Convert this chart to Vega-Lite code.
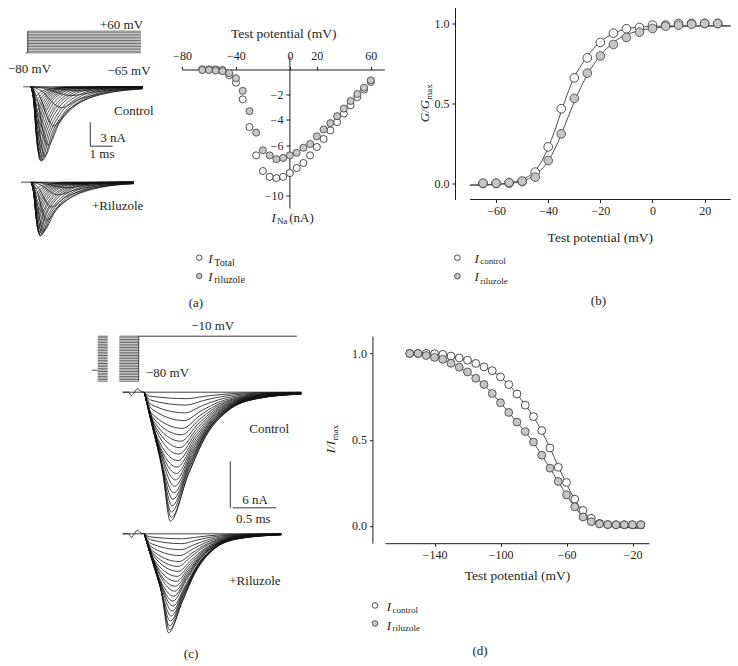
{
"$schema":"https://vega.github.io/schema/vega-lite/v6.json",
"padding":{"left":7,"top":7.5,"right":0,"bottom":0},
"autosize":{"type":"pad"},
"config":{"view":{"stroke":null},"font":"Liberation Serif",
"text":{"font":"Liberation Serif","fontSize":13,"color":"#231f20","fontWeight":"normal"},
"axis":{"grid":false,"labelFont":"Liberation Serif","labelFontSize":12,"labelColor":"#231f20","domainColor":"#231f20","tickColor":"#231f20","titleFont":"Liberation Serif","titleFontSize":13.5,"titleFontWeight":"normal","titleColor":"#231f20","labelFlush":false,"labelOverlap":false,"domainWidth":1,"tickWidth":1}},
"datasets":{
"apv":[{"v":-80},{"v":-70},{"v":-60},{"v":-50},{"v":-40},{"v":-30},{"v":-20},{"v":-10},{"v":0},{"v":10},{"v":20},{"v":30},{"v":40},{"v":50},{"v":60}],
"cpv":[{"v":-150},{"v":-145},{"v":-140},{"v":-135},{"v":-130},{"v":-125},{"v":-120},{"v":-115},{"v":-110},{"v":-105},{"v":-100},{"v":-95},{"v":-90},{"v":-85},{"v":-80},{"v":-75},{"v":-70},{"v":-65},{"v":-60},{"v":-55},{"v":-50},{"v":-45},{"v":-40},{"v":-35},{"v":-30},{"v":-25},{"v":-20},{"v":-15},{"v":-10}],
"ac":[{"k":0,"t":-0.35,"i":0},{"k":0,"t":5,"i":0},
{"k":1,"t":0,"i":0},{"k":1,"t":0.88,"i":-0.13},{"k":1,"t":1.65,"i":-0.4},{"k":1,"t":2.2,"i":-0.5},{"k":1,"t":3.45,"i":-0.3},{"k":1,"t":4.7,"i":-0.19},{"k":1,"t":5,"i":-0.16},
{"k":2,"t":0,"i":0},{"k":2,"t":0.72,"i":-0.28},{"k":2,"t":1.35,"i":-0.88},{"k":2,"t":1.8,"i":-1.1},{"k":2,"t":2.8,"i":-0.66},{"k":2,"t":3.8,"i":-0.41},{"k":2,"t":5,"i":-0.22},
{"k":3,"t":0,"i":0},{"k":3,"t":0.54,"i":-0.65},{"k":3,"t":1.01,"i":-2.08},{"k":3,"t":1.35,"i":-2.6},{"k":3,"t":2.15,"i":-1.56},{"k":3,"t":2.95,"i":-0.96},{"k":3,"t":4.55,"i":-0.36},{"k":3,"t":5,"i":-0.27},
{"k":4,"t":0,"i":0},{"k":4,"t":0.4,"i":-1.23},{"k":4,"t":0.75,"i":-3.92},{"k":4,"t":1,"i":-4.9},{"k":4,"t":1.65,"i":-2.94},{"k":4,"t":2.3,"i":-1.81},{"k":4,"t":3.6,"i":-0.69},{"k":4,"t":5,"i":-0.23},
{"k":5,"t":0,"i":0},{"k":5,"t":0.3,"i":-1.83},{"k":5,"t":0.56,"i":-5.84},{"k":5,"t":0.75,"i":-7.3},{"k":5,"t":1.3,"i":-4.38},{"k":5,"t":1.85,"i":-2.7},{"k":5,"t":2.95,"i":-1.02},{"k":5,"t":4.6,"i":-0.22},{"k":5,"t":5,"i":-0.15},
{"k":6,"t":0,"i":0},{"k":6,"t":0.24,"i":-2.18},{"k":6,"t":0.45,"i":-6.96},{"k":6,"t":0.6,"i":-8.7},{"k":6,"t":1.1,"i":-5.22},{"k":6,"t":1.6,"i":-3.22},{"k":6,"t":2.6,"i":-1.22},{"k":6,"t":4.1,"i":-0.26},{"k":6,"t":5,"i":-0.11},
{"k":7,"t":0,"i":0},{"k":7,"t":0.18,"i":-2.33},{"k":7,"t":0.34,"i":-7.44},{"k":7,"t":0.45,"i":-9.3},{"k":7,"t":0.88,"i":-5.58},{"k":7,"t":1.3,"i":-3.44},{"k":7,"t":2.15,"i":-1.3},{"k":7,"t":3.43,"i":-0.28},{"k":7,"t":5,"i":-0.04},
{"k":8,"t":0,"i":0},{"k":8,"t":0.15,"i":-2.23},{"k":8,"t":0.29,"i":-7.12},{"k":8,"t":0.38,"i":-8.9},{"k":8,"t":0.73,"i":-5.34},{"k":8,"t":1.08,"i":-3.29},{"k":8,"t":1.78,"i":-1.25},{"k":8,"t":2.83,"i":-0.27},{"k":8,"t":5,"i":-0.01},
{"k":9,"t":0,"i":0},{"k":9,"t":0.13,"i":-2},{"k":9,"t":0.25,"i":-6.4},{"k":9,"t":0.33,"i":-8},{"k":9,"t":0.63,"i":-4.8},{"k":9,"t":0.93,"i":-2.96},{"k":9,"t":1.53,"i":-1.12},{"k":9,"t":2.43,"i":-0.24},{"k":9,"t":5,"i":0},
{"k":10,"t":0,"i":0},{"k":10,"t":0.12,"i":-1.65},{"k":10,"t":0.23,"i":-5.28},{"k":10,"t":0.3,"i":-6.6},{"k":10,"t":0.55,"i":-3.96},{"k":10,"t":0.8,"i":-2.44},{"k":10,"t":1.3,"i":-0.92},{"k":10,"t":2.05,"i":-0.2},{"k":10,"t":5,"i":0},
{"k":11,"t":0,"i":0},{"k":11,"t":0.11,"i":-1.3},{"k":11,"t":0.21,"i":-4.16},{"k":11,"t":0.28,"i":-5.2},{"k":11,"t":0.5,"i":-3.12},{"k":11,"t":0.73,"i":-1.92},{"k":11,"t":1.18,"i":-0.73},{"k":11,"t":1.86,"i":-0.16},{"k":11,"t":5,"i":0},
{"k":12,"t":0,"i":0},{"k":12,"t":0.1,"i":-0.95},{"k":12,"t":0.2,"i":-3.04},{"k":12,"t":0.26,"i":-3.8},{"k":12,"t":0.46,"i":-2.28},{"k":12,"t":0.66,"i":-1.41},{"k":12,"t":1.06,"i":-0.53},{"k":12,"t":1.66,"i":-0.11},{"k":12,"t":5,"i":0},
{"k":13,"t":0,"i":0},{"k":13,"t":0.1,"i":-0.6},{"k":13,"t":0.19,"i":-1.92},{"k":13,"t":0.25,"i":-2.4},{"k":13,"t":0.44,"i":-1.44},{"k":13,"t":0.63,"i":-0.89},{"k":13,"t":1.01,"i":-0.34},{"k":13,"t":1.58,"i":-0.07},{"k":13,"t":5,"i":0},
{"k":14,"t":0,"i":0},{"k":14,"t":0.1,"i":-0.28},{"k":14,"t":0.18,"i":-0.88},{"k":14,"t":0.24,"i":-1.1},{"k":14,"t":0.42,"i":-0.66},{"k":14,"t":0.6,"i":-0.41},{"k":14,"t":0.96,"i":-0.15},{"k":14,"t":1.5,"i":-0.03},{"k":14,"t":5,"i":0},
{"k":15,"t":0,"i":0},{"k":15,"t":0.21,"i":-2.3},{"k":15,"t":0.39,"i":-7.36},{"k":15,"t":0.52,"i":-9.2},{"k":15,"t":0.98,"i":-5.52},{"k":15,"t":1.44,"i":-3.4},{"k":15,"t":2.36,"i":-1.29},{"k":15,"t":3.74,"i":-0.28},{"k":15,"t":5,"i":-0.02},
{"k":16,"t":0,"i":0},{"k":16,"t":0.16,"i":-2.3},{"k":16,"t":0.31,"i":-7.36},{"k":16,"t":0.41,"i":-9.2},{"k":16,"t":0.8,"i":-5.52},{"k":16,"t":1.19,"i":-3.4},{"k":16,"t":1.97,"i":-1.29},{"k":16,"t":3.14,"i":-0.28},{"k":16,"t":5,"i":-0.01},
{"k":17,"t":0,"i":0},{"k":17,"t":0.14,"i":-2.1},{"k":17,"t":0.26,"i":-6.72},{"k":17,"t":0.35,"i":-8.4},{"k":17,"t":0.68,"i":-5.04},{"k":17,"t":1,"i":-3.11},{"k":17,"t":1.65,"i":-1.18},{"k":17,"t":2.63,"i":-0.25},{"k":17,"t":5,"i":0},
{"k":18,"t":0,"i":0},{"k":18,"t":0.12,"i":-1.83},{"k":18,"t":0.23,"i":-5.84},{"k":18,"t":0.31,"i":-7.3},{"k":18,"t":0.59,"i":-4.38},{"k":18,"t":0.86,"i":-2.7},{"k":18,"t":1.41,"i":-1.02},{"k":18,"t":2.24,"i":-0.22},{"k":18,"t":5,"i":0},
{"k":19,"t":0,"i":0},{"k":19,"t":0.12,"i":-1.48},{"k":19,"t":0.22,"i":-4.72},{"k":19,"t":0.29,"i":-5.9},{"k":19,"t":0.53,"i":-3.54},{"k":19,"t":0.76,"i":-2.18},{"k":19,"t":1.23,"i":-0.83},{"k":19,"t":1.94,"i":-0.18},{"k":19,"t":5,"i":0},
{"k":20,"t":0,"i":0},{"k":20,"t":0.11,"i":-1.13},{"k":20,"t":0.2,"i":-3.6},{"k":20,"t":0.27,"i":-4.5},{"k":20,"t":0.48,"i":-2.7},{"k":20,"t":0.69,"i":-1.67},{"k":20,"t":1.11,"i":-0.63},{"k":20,"t":1.74,"i":-0.14},{"k":20,"t":5,"i":0},
{"k":21,"t":0,"i":0},{"k":21,"t":0.1,"i":-0.78},{"k":21,"t":0.19,"i":-2.48},{"k":21,"t":0.255,"i":-3.1},{"k":21,"t":0.45,"i":-1.86},{"k":21,"t":0.645,"i":-1.15},{"k":21,"t":1.035,"i":-0.43},{"k":21,"t":1.62,"i":-0.09},{"k":21,"t":5,"i":0},
{"k":22,"t":0,"i":0},{"k":22,"t":0.1,"i":-0.43},{"k":22,"t":0.18,"i":-1.36},{"k":22,"t":0.245,"i":-1.7},{"k":22,"t":0.43,"i":-1.02},{"k":22,"t":0.615,"i":-0.63},{"k":22,"t":0.985,"i":-0.24},{"k":22,"t":1.54,"i":-0.05},{"k":22,"t":5,"i":0}],
"ar":[{"k":0,"t":-0.45,"i":0},{"k":0,"t":4.6,"i":0},
{"k":1,"t":0,"i":0},{"k":1,"t":0.8,"i":-0.08},{"k":1,"t":1.5,"i":-0.24},{"k":1,"t":2,"i":-0.3},{"k":1,"t":3,"i":-0.18},{"k":1,"t":4,"i":-0.11},{"k":1,"t":4.6,"i":-0.08},
{"k":2,"t":0,"i":0},{"k":2,"t":0.64,"i":-0.18},{"k":2,"t":1.2,"i":-0.56},{"k":2,"t":1.6,"i":-0.7},{"k":2,"t":2.45,"i":-0.42},{"k":2,"t":3.3,"i":-0.26},{"k":2,"t":4.6,"i":-0.12},
{"k":3,"t":0,"i":0},{"k":3,"t":0.48,"i":-0.4},{"k":3,"t":0.9,"i":-1.28},{"k":3,"t":1.2,"i":-1.6},{"k":3,"t":1.95,"i":-0.96},{"k":3,"t":2.7,"i":-0.59},{"k":3,"t":4.2,"i":-0.22},{"k":3,"t":4.6,"i":-0.17},
{"k":4,"t":0,"i":0},{"k":4,"t":0.36,"i":-0.78},{"k":4,"t":0.68,"i":-2.48},{"k":4,"t":0.9,"i":-3.1},{"k":4,"t":1.55,"i":-1.86},{"k":4,"t":2.2,"i":-1.15},{"k":4,"t":3.5,"i":-0.43},{"k":4,"t":4.6,"i":-0.18},
{"k":5,"t":0,"i":0},{"k":5,"t":0.28,"i":-1.19},{"k":5,"t":0.53,"i":-3.8},{"k":5,"t":0.7,"i":-4.75},{"k":5,"t":1.3,"i":-2.85},{"k":5,"t":1.9,"i":-1.76},{"k":5,"t":3.1,"i":-0.67},{"k":5,"t":4.6,"i":-0.18},
{"k":6,"t":0,"i":0},{"k":6,"t":0.22,"i":-1.53},{"k":6,"t":0.41,"i":-4.88},{"k":6,"t":0.55,"i":-6.1},{"k":6,"t":1.08,"i":-3.66},{"k":6,"t":1.6,"i":-2.26},{"k":6,"t":2.65,"i":-0.85},{"k":6,"t":4.23,"i":-0.18},{"k":6,"t":4.6,"i":-0.13},
{"k":7,"t":0,"i":0},{"k":7,"t":0.17,"i":-1.69},{"k":7,"t":0.32,"i":-5.4},{"k":7,"t":0.42,"i":-6.75},{"k":7,"t":0.85,"i":-4.05},{"k":7,"t":1.27,"i":-2.5},{"k":7,"t":2.12,"i":-0.95},{"k":7,"t":3.4,"i":-0.2},{"k":7,"t":4.6,"i":-0.05},
{"k":8,"t":0,"i":0},{"k":8,"t":0.14,"i":-1.61},{"k":8,"t":0.27,"i":-5.16},{"k":8,"t":0.36,"i":-6.45},{"k":8,"t":0.71,"i":-3.87},{"k":8,"t":1.06,"i":-2.39},{"k":8,"t":1.76,"i":-0.9},{"k":8,"t":2.81,"i":-0.19},{"k":8,"t":4.6,"i":-0.01},
{"k":9,"t":0,"i":0},{"k":9,"t":0.13,"i":-1.48},{"k":9,"t":0.24,"i":-4.72},{"k":9,"t":0.32,"i":-5.9},{"k":9,"t":0.62,"i":-3.54},{"k":9,"t":0.92,"i":-2.18},{"k":9,"t":1.52,"i":-0.83},{"k":9,"t":2.42,"i":-0.18},{"k":9,"t":4.6,"i":0},
{"k":10,"t":0,"i":0},{"k":10,"t":0.12,"i":-1.25},{"k":10,"t":0.22,"i":-4},{"k":10,"t":0.29,"i":-5},{"k":10,"t":0.55,"i":-3},{"k":10,"t":0.81,"i":-1.85},{"k":10,"t":1.33,"i":-0.7},{"k":10,"t":2.11,"i":-0.15},{"k":10,"t":4.6,"i":0},
{"k":11,"t":0,"i":0},{"k":11,"t":0.11,"i":-1},{"k":11,"t":0.2,"i":-3.2},{"k":11,"t":0.27,"i":-4},{"k":11,"t":0.5,"i":-2.4},{"k":11,"t":0.73,"i":-1.48},{"k":11,"t":1.19,"i":-0.56},{"k":11,"t":1.88,"i":-0.12},{"k":11,"t":4.6,"i":0},
{"k":12,"t":0,"i":0},{"k":12,"t":0.1,"i":-0.74},{"k":12,"t":0.19,"i":-2.36},{"k":12,"t":0.25,"i":-2.95},{"k":12,"t":0.46,"i":-1.77},{"k":12,"t":0.67,"i":-1.09},{"k":12,"t":1.09,"i":-0.41},{"k":12,"t":1.72,"i":-0.09},{"k":12,"t":4.6,"i":0},
{"k":13,"t":0,"i":0},{"k":13,"t":0.1,"i":-0.46},{"k":13,"t":0.18,"i":-1.48},{"k":13,"t":0.24,"i":-1.85},{"k":13,"t":0.43,"i":-1.11},{"k":13,"t":0.62,"i":-0.68},{"k":13,"t":1,"i":-0.26},{"k":13,"t":1.57,"i":-0.06},{"k":13,"t":4.6,"i":0},
{"k":14,"t":0,"i":0},{"k":14,"t":0.09,"i":-0.21},{"k":14,"t":0.17,"i":-0.66},{"k":14,"t":0.23,"i":-0.83},{"k":14,"t":0.41,"i":-0.5},{"k":14,"t":0.59,"i":-0.31},{"k":14,"t":0.95,"i":-0.11},{"k":14,"t":1.49,"i":-0.02},{"k":14,"t":4.6,"i":0},
{"k":15,"t":0,"i":0},{"k":15,"t":0.19,"i":-1.61},{"k":15,"t":0.36,"i":-5.16},{"k":15,"t":0.48,"i":-6.45},{"k":15,"t":0.96,"i":-3.87},{"k":15,"t":1.43,"i":-2.39},{"k":15,"t":2.38,"i":-0.9},{"k":15,"t":3.81,"i":-0.19},{"k":15,"t":4.6,"i":-0.08},
{"k":16,"t":0,"i":0},{"k":16,"t":0.16,"i":-1.66},{"k":16,"t":0.29,"i":-5.32},{"k":16,"t":0.39,"i":-6.65},{"k":16,"t":0.78,"i":-3.99},{"k":16,"t":1.17,"i":-2.46},{"k":16,"t":1.95,"i":-0.93},{"k":16,"t":3.12,"i":-0.2},{"k":16,"t":4.6,"i":-0.03},
{"k":17,"t":0,"i":0},{"k":17,"t":0.14,"i":-1.57},{"k":17,"t":0.26,"i":-5.02},{"k":17,"t":0.34,"i":-6.27},{"k":17,"t":0.67,"i":-3.76},{"k":17,"t":0.99,"i":-2.32},{"k":17,"t":1.64,"i":-0.88},{"k":17,"t":2.62,"i":-0.19},{"k":17,"t":4.6,"i":0},
{"k":18,"t":0,"i":0},{"k":18,"t":0.12,"i":-1.4},{"k":18,"t":0.23,"i":-4.48},{"k":18,"t":0.305,"i":-5.6},{"k":18,"t":0.585,"i":-3.36},{"k":18,"t":0.865,"i":-2.07},{"k":18,"t":1.425,"i":-0.78},{"k":18,"t":2.265,"i":-0.17},{"k":18,"t":4.6,"i":0},
{"k":19,"t":0,"i":0},{"k":19,"t":0.11,"i":-1.13},{"k":19,"t":0.21,"i":-3.6},{"k":19,"t":0.28,"i":-4.5},{"k":19,"t":0.525,"i":-2.7},{"k":19,"t":0.77,"i":-1.67},{"k":19,"t":1.26,"i":-0.63},{"k":19,"t":1.995,"i":-0.14},{"k":19,"t":4.6,"i":0},
{"k":20,"t":0,"i":0},{"k":20,"t":0.1,"i":-0.88},{"k":20,"t":0.195,"i":-2.8},{"k":20,"t":0.26,"i":-3.5},{"k":20,"t":0.48,"i":-2.1},{"k":20,"t":0.7,"i":-1.3},{"k":20,"t":1.14,"i":-0.49},{"k":20,"t":1.8,"i":-0.11},{"k":20,"t":4.6,"i":0},
{"k":21,"t":0,"i":0},{"k":21,"t":0.1,"i":-0.6},{"k":21,"t":0.18,"i":-1.92},{"k":21,"t":0.245,"i":-2.4},{"k":21,"t":0.445,"i":-1.44},{"k":21,"t":0.645,"i":-0.89},{"k":21,"t":1.045,"i":-0.34},{"k":21,"t":1.645,"i":-0.07},{"k":21,"t":4.6,"i":0},
{"k":22,"t":0,"i":0},{"k":22,"t":0.09,"i":-0.35},{"k":22,"t":0.18,"i":-1.1},{"k":22,"t":0.235,"i":-1.38},{"k":22,"t":0.42,"i":-0.83},{"k":22,"t":0.605,"i":-0.51},{"k":22,"t":0.975,"i":-0.19},{"k":22,"t":1.53,"i":-0.04},{"k":22,"t":4.6,"i":0}],
"cc":[{"k":0,"t":-0.25,"i":0},{"k":0,"t":1.81,"i":0},
{"k":99,"t":-0.25,"i":0},{"k":99,"t":-0.18,"i":0},{"k":99,"t":-0.15,"i":-0.45},{"k":99,"t":-0.12,"i":-0.1},{"k":99,"t":-0.08,"i":0.45},{"k":99,"t":-0.04,"i":0.1},{"k":99,"t":0,"i":0},
{"k":1,"t":0,"i":0},{"k":1,"t":0.21,"i":-9.96},{"k":1,"t":0.3,"i":-16.6},{"k":1,"t":0.5,"i":-10.79},{"k":1,"t":0.7,"i":-5.81},{"k":1,"t":0.95,"i":-2.49},{"k":1,"t":1.3,"i":-0.83},{"k":1,"t":1.81,"i":-0.25},
{"k":2,"t":0,"i":0},{"k":2,"t":0.2,"i":-9.66},{"k":2,"t":0.31,"i":-16.1},{"k":2,"t":0.51,"i":-10.47},{"k":2,"t":0.71,"i":-5.64},{"k":2,"t":0.96,"i":-2.42},{"k":2,"t":1.31,"i":-0.81},{"k":2,"t":1.81,"i":-0.24},
{"k":3,"t":0,"i":0},{"k":3,"t":0.2,"i":-9.26},{"k":3,"t":0.31,"i":-15.44},{"k":3,"t":0.51,"i":-10.03},{"k":3,"t":0.71,"i":-5.4},{"k":3,"t":0.96,"i":-2.32},{"k":3,"t":1.31,"i":-0.77},{"k":3,"t":1.81,"i":-0.23},
{"k":4,"t":0,"i":0},{"k":4,"t":0.19,"i":-8.76},{"k":4,"t":0.32,"i":-14.61},{"k":4,"t":0.52,"i":-9.5},{"k":4,"t":0.72,"i":-5.11},{"k":4,"t":0.97,"i":-2.19},{"k":4,"t":1.32,"i":-0.73},{"k":4,"t":1.81,"i":-0.22},
{"k":5,"t":0,"i":0},{"k":5,"t":0.18,"i":-8.27},{"k":5,"t":0.33,"i":-13.78},{"k":5,"t":0.53,"i":-8.96},{"k":5,"t":0.73,"i":-4.82},{"k":5,"t":0.98,"i":-2.07},{"k":5,"t":1.33,"i":-0.69},{"k":5,"t":1.81,"i":-0.21},
{"k":6,"t":0,"i":0},{"k":6,"t":0.17,"i":-7.77},{"k":6,"t":0.34,"i":-12.95},{"k":6,"t":0.54,"i":-8.42},{"k":6,"t":0.74,"i":-4.53},{"k":6,"t":0.99,"i":-1.94},{"k":6,"t":1.34,"i":-0.65},{"k":6,"t":1.81,"i":-0.2},
{"k":7,"t":0,"i":0},{"k":7,"t":0.17,"i":-7.27},{"k":7,"t":0.35,"i":-12.12},{"k":7,"t":0.55,"i":-7.88},{"k":7,"t":0.75,"i":-4.24},{"k":7,"t":1,"i":-1.82},{"k":7,"t":1.35,"i":-0.61},{"k":7,"t":1.81,"i":-0.18},
{"k":8,"t":0,"i":0},{"k":8,"t":0.16,"i":-6.77},{"k":8,"t":0.36,"i":-11.29},{"k":8,"t":0.56,"i":-7.34},{"k":8,"t":0.76,"i":-3.95},{"k":8,"t":1.01,"i":-1.69},{"k":8,"t":1.36,"i":-0.56},{"k":8,"t":1.81,"i":-0.17},
{"k":9,"t":0,"i":0},{"k":9,"t":0.15,"i":-6.27},{"k":9,"t":0.37,"i":-10.46},{"k":9,"t":0.57,"i":-6.8},{"k":9,"t":0.77,"i":-3.66},{"k":9,"t":1.02,"i":-1.57},{"k":9,"t":1.37,"i":-0.52},{"k":9,"t":1.81,"i":-0.16},
{"k":10,"t":0,"i":0},{"k":10,"t":0.14,"i":-5.78},{"k":10,"t":0.38,"i":-9.63},{"k":10,"t":0.58,"i":-6.26},{"k":10,"t":0.78,"i":-3.37},{"k":10,"t":1.03,"i":-1.44},{"k":10,"t":1.38,"i":-0.48},{"k":10,"t":1.81,"i":-0.15},
{"k":11,"t":0,"i":0},{"k":11,"t":0.13,"i":-5.28},{"k":11,"t":0.39,"i":-8.8},{"k":11,"t":0.59,"i":-5.72},{"k":11,"t":0.79,"i":-3.08},{"k":11,"t":1.04,"i":-1.32},{"k":11,"t":1.39,"i":-0.44},{"k":11,"t":1.81,"i":-0.13},
{"k":12,"t":0,"i":0},{"k":12,"t":0.13,"i":-4.78},{"k":12,"t":0.4,"i":-7.97},{"k":12,"t":0.6,"i":-5.18},{"k":12,"t":0.8,"i":-2.79},{"k":12,"t":1.05,"i":-1.2},{"k":12,"t":1.4,"i":-0.4},{"k":12,"t":1.81,"i":-0.12},
{"k":13,"t":0,"i":0},{"k":13,"t":0.12,"i":-4.28},{"k":13,"t":0.41,"i":-7.14},{"k":13,"t":0.61,"i":-4.64},{"k":13,"t":0.81,"i":-2.5},{"k":13,"t":1.06,"i":-1.07},{"k":13,"t":1.41,"i":-0.36},{"k":13,"t":1.81,"i":-0.11},
{"k":14,"t":0,"i":0},{"k":14,"t":0.11,"i":-3.78},{"k":14,"t":0.42,"i":-6.31},{"k":14,"t":0.62,"i":-4.1},{"k":14,"t":0.82,"i":-2.21},{"k":14,"t":1.07,"i":-0.95},{"k":14,"t":1.42,"i":-0.32},{"k":14,"t":1.81,"i":-0.1},
{"k":15,"t":0,"i":0},{"k":15,"t":0.1,"i":-3.29},{"k":15,"t":0.43,"i":-5.48},{"k":15,"t":0.63,"i":-3.56},{"k":15,"t":0.83,"i":-1.92},{"k":15,"t":1.08,"i":-0.82},{"k":15,"t":1.43,"i":-0.27},{"k":15,"t":1.81,"i":-0.08},
{"k":16,"t":0,"i":0},{"k":16,"t":0.09,"i":-2.79},{"k":16,"t":0.44,"i":-4.65},{"k":16,"t":0.64,"i":-3.02},{"k":16,"t":0.84,"i":-1.63},{"k":16,"t":1.09,"i":-0.7},{"k":16,"t":1.44,"i":-0.23},{"k":16,"t":1.81,"i":-0.07},
{"k":17,"t":0,"i":0},{"k":17,"t":0.09,"i":-2.19},{"k":17,"t":0.46,"i":-3.65},{"k":17,"t":0.66,"i":-2.37},{"k":17,"t":0.86,"i":-1.28},{"k":17,"t":1.11,"i":-0.55},{"k":17,"t":1.46,"i":-0.18},{"k":17,"t":1.81,"i":-0.06},
{"k":18,"t":0,"i":0},{"k":18,"t":0.08,"i":-1.59},{"k":18,"t":0.47,"i":-2.66},{"k":18,"t":0.67,"i":-1.73},{"k":18,"t":0.87,"i":-0.93},{"k":18,"t":1.12,"i":-0.4},{"k":18,"t":1.47,"i":-0.13},{"k":18,"t":1.81,"i":-0.04},
{"k":19,"t":0,"i":0},{"k":19,"t":0.07,"i":-1},{"k":19,"t":0.48,"i":-1.66},{"k":19,"t":0.68,"i":-1.08},{"k":19,"t":0.88,"i":-0.58},{"k":19,"t":1.13,"i":-0.25},{"k":19,"t":1.48,"i":-0.08},{"k":19,"t":1.81,"i":-0.03},
{"k":20,"t":0,"i":0},{"k":20,"t":0.06,"i":-0.5},{"k":20,"t":0.49,"i":-0.83},{"k":20,"t":0.69,"i":-0.54},{"k":20,"t":0.89,"i":-0.29},{"k":20,"t":1.14,"i":-0.12},{"k":20,"t":1.49,"i":-0.04},{"k":20,"t":1.81,"i":-0.01}],
"cr":[{"k":0,"t":-0.25,"i":0},{"k":0,"t":1.58,"i":0},
{"k":99,"t":-0.25,"i":0},{"k":99,"t":-0.18,"i":0},{"k":99,"t":-0.15,"i":-0.45},{"k":99,"t":-0.12,"i":-0.1},{"k":99,"t":-0.08,"i":0.45},{"k":99,"t":-0.04,"i":0.1},{"k":99,"t":0,"i":0},
{"k":1,"t":0,"i":0},{"k":1,"t":0.2,"i":-7.64},{"k":1,"t":0.28,"i":-12.74},{"k":1,"t":0.43,"i":-8.92},{"k":1,"t":0.58,"i":-5.1},{"k":1,"t":0.78,"i":-2.17},{"k":1,"t":1.08,"i":-0.64},{"k":1,"t":1.58,"i":-0.13},
{"k":2,"t":0,"i":0},{"k":2,"t":0.2,"i":-7.41},{"k":2,"t":0.29,"i":-12.36},{"k":2,"t":0.44,"i":-8.65},{"k":2,"t":0.59,"i":-4.95},{"k":2,"t":0.79,"i":-2.1},{"k":2,"t":1.09,"i":-0.62},{"k":2,"t":1.58,"i":-0.13},
{"k":3,"t":0,"i":0},{"k":3,"t":0.19,"i":-7.11},{"k":3,"t":0.29,"i":-11.85},{"k":3,"t":0.44,"i":-8.3},{"k":3,"t":0.59,"i":-4.74},{"k":3,"t":0.79,"i":-2.02},{"k":3,"t":1.09,"i":-0.6},{"k":3,"t":1.58,"i":-0.12},
{"k":4,"t":0,"i":0},{"k":4,"t":0.18,"i":-6.72},{"k":4,"t":0.3,"i":-11.21},{"k":4,"t":0.45,"i":-7.85},{"k":4,"t":0.6,"i":-4.49},{"k":4,"t":0.8,"i":-1.91},{"k":4,"t":1.1,"i":-0.56},{"k":4,"t":1.58,"i":-0.11},
{"k":5,"t":0,"i":0},{"k":5,"t":0.17,"i":-6.34},{"k":5,"t":0.31,"i":-10.57},{"k":5,"t":0.46,"i":-7.4},{"k":5,"t":0.61,"i":-4.23},{"k":5,"t":0.81,"i":-1.8},{"k":5,"t":1.11,"i":-0.53},{"k":5,"t":1.58,"i":-0.11},
{"k":6,"t":0,"i":0},{"k":6,"t":0.17,"i":-5.96},{"k":6,"t":0.32,"i":-9.94},{"k":6,"t":0.47,"i":-6.96},{"k":6,"t":0.62,"i":-3.98},{"k":6,"t":0.82,"i":-1.69},{"k":6,"t":1.12,"i":-0.5},{"k":6,"t":1.58,"i":-0.1},
{"k":7,"t":0,"i":0},{"k":7,"t":0.16,"i":-5.58},{"k":7,"t":0.33,"i":-9.3},{"k":7,"t":0.48,"i":-6.51},{"k":7,"t":0.63,"i":-3.72},{"k":7,"t":0.83,"i":-1.58},{"k":7,"t":1.13,"i":-0.47},{"k":7,"t":1.58,"i":-0.09},
{"k":8,"t":0,"i":0},{"k":8,"t":0.15,"i":-5.2},{"k":8,"t":0.33,"i":-8.66},{"k":8,"t":0.48,"i":-6.06},{"k":8,"t":0.63,"i":-3.47},{"k":8,"t":0.83,"i":-1.47},{"k":8,"t":1.13,"i":-0.44},{"k":8,"t":1.58,"i":-0.09},
{"k":9,"t":0,"i":0},{"k":9,"t":0.14,"i":-4.81},{"k":9,"t":0.34,"i":-8.03},{"k":9,"t":0.49,"i":-5.62},{"k":9,"t":0.64,"i":-3.21},{"k":9,"t":0.84,"i":-1.37},{"k":9,"t":1.14,"i":-0.4},{"k":9,"t":1.58,"i":-0.08},
{"k":10,"t":0,"i":0},{"k":10,"t":0.14,"i":-4.43},{"k":10,"t":0.35,"i":-7.39},{"k":10,"t":0.5,"i":-5.17},{"k":10,"t":0.65,"i":-2.96},{"k":10,"t":0.85,"i":-1.26},{"k":10,"t":1.15,"i":-0.37},{"k":10,"t":1.58,"i":-0.07},
{"k":11,"t":0,"i":0},{"k":11,"t":0.13,"i":-4.05},{"k":11,"t":0.36,"i":-6.75},{"k":11,"t":0.51,"i":-4.73},{"k":11,"t":0.66,"i":-2.7},{"k":11,"t":0.86,"i":-1.15},{"k":11,"t":1.16,"i":-0.34},{"k":11,"t":1.58,"i":-0.07},
{"k":12,"t":0,"i":0},{"k":12,"t":0.12,"i":-3.67},{"k":12,"t":0.37,"i":-6.12},{"k":12,"t":0.52,"i":-4.28},{"k":12,"t":0.67,"i":-2.45},{"k":12,"t":0.87,"i":-1.04},{"k":12,"t":1.17,"i":-0.31},{"k":12,"t":1.58,"i":-0.06},
{"k":13,"t":0,"i":0},{"k":13,"t":0.11,"i":-3.29},{"k":13,"t":0.38,"i":-5.48},{"k":13,"t":0.53,"i":-3.83},{"k":13,"t":0.68,"i":-2.19},{"k":13,"t":0.88,"i":-0.93},{"k":13,"t":1.18,"i":-0.27},{"k":13,"t":1.58,"i":-0.05},
{"k":14,"t":0,"i":0},{"k":14,"t":0.11,"i":-2.9},{"k":14,"t":0.39,"i":-4.84},{"k":14,"t":0.54,"i":-3.39},{"k":14,"t":0.69,"i":-1.94},{"k":14,"t":0.89,"i":-0.82},{"k":14,"t":1.19,"i":-0.24},{"k":14,"t":1.58,"i":-0.05},
{"k":15,"t":0,"i":0},{"k":15,"t":0.1,"i":-2.52},{"k":15,"t":0.39,"i":-4.2},{"k":15,"t":0.54,"i":-2.94},{"k":15,"t":0.69,"i":-1.68},{"k":15,"t":0.89,"i":-0.71},{"k":15,"t":1.19,"i":-0.21},{"k":15,"t":1.58,"i":-0.04},
{"k":16,"t":0,"i":0},{"k":16,"t":0.09,"i":-2.14},{"k":16,"t":0.4,"i":-3.57},{"k":16,"t":0.55,"i":-2.5},{"k":16,"t":0.7,"i":-1.43},{"k":16,"t":0.9,"i":-0.61},{"k":16,"t":1.2,"i":-0.18},{"k":16,"t":1.58,"i":-0.04},
{"k":17,"t":0,"i":0},{"k":17,"t":0.08,"i":-1.68},{"k":17,"t":0.41,"i":-2.8},{"k":17,"t":0.56,"i":-1.96},{"k":17,"t":0.71,"i":-1.12},{"k":17,"t":0.91,"i":-0.48},{"k":17,"t":1.21,"i":-0.14},{"k":17,"t":1.58,"i":-0.03},
{"k":18,"t":0,"i":0},{"k":18,"t":0.07,"i":-1.22},{"k":18,"t":0.42,"i":-2.04},{"k":18,"t":0.57,"i":-1.43},{"k":18,"t":0.72,"i":-0.82},{"k":18,"t":0.92,"i":-0.35},{"k":18,"t":1.22,"i":-0.1},{"k":18,"t":1.58,"i":-0.02},
{"k":19,"t":0,"i":0},{"k":19,"t":0.07,"i":-0.76},{"k":19,"t":0.43,"i":-1.27},{"k":19,"t":0.58,"i":-0.89},{"k":19,"t":0.73,"i":-0.51},{"k":19,"t":0.93,"i":-0.22},{"k":19,"t":1.23,"i":-0.06},{"k":19,"t":1.58,"i":-0.01},
{"k":20,"t":0,"i":0},{"k":20,"t":0.06,"i":-0.38},{"k":20,"t":0.44,"i":-0.64},{"k":20,"t":0.59,"i":-0.45},{"k":20,"t":0.74,"i":-0.26},{"k":20,"t":0.94,"i":-0.11},{"k":20,"t":1.24,"i":-0.03},{"k":20,"t":1.58,"i":-0.01}],
"iv":[{"s":"Total","V":-65,"I":0},{"s":"Total","V":-60,"I":0},{"s":"Total","V":-55,"I":0},{"s":"Total","V":-50,"I":-0.05},{"s":"Total","V":-45,"I":-0.47},{"s":"Total","V":-40,"I":-1.05},{"s":"Total","V":-35,"I":-2.37},{"s":"Total","V":-30,"I":-4.56},{"s":"Total","V":-25,"I":-6.8},{"s":"Total","V":-20,"I":-8.04},{"s":"Total","V":-15,"I":-8.5},{"s":"Total","V":-10,"I":-8.6},{"s":"Total","V":-5,"I":-8.5},{"s":"Total","V":0,"I":-8.2},{"s":"Total","V":5,"I":-7.8},{"s":"Total","V":10,"I":-7.4},{"s":"Total","V":15,"I":-6.8},{"s":"Total","V":20,"I":-6.14},{"s":"Total","V":25,"I":-5.5},{"s":"Total","V":30,"I":-4.83},{"s":"Total","V":35,"I":-4.17},{"s":"Total","V":40,"I":-3.5},{"s":"Total","V":45,"I":-2.85},{"s":"Total","V":50,"I":-2.19},{"s":"Total","V":55,"I":-1.6},{"s":"Total","V":60,"I":-1},
{"s":"riluzole","V":-65,"I":-0.05},{"s":"riluzole","V":-60,"I":-0.05},{"s":"riluzole","V":-55,"I":-0.1},{"s":"riluzole","V":-50,"I":-0.14},{"s":"riluzole","V":-45,"I":-0.3},{"s":"riluzole","V":-40,"I":-0.7},{"s":"riluzole","V":-35,"I":-1.7},{"s":"riluzole","V":-30,"I":-3.3},{"s":"riluzole","V":-25,"I":-5},{"s":"riluzole","V":-20,"I":-6.4},{"s":"riluzole","V":-15,"I":-6.8},{"s":"riluzole","V":-10,"I":-7.1},{"s":"riluzole","V":-5,"I":-7},{"s":"riluzole","V":0,"I":-6.8},{"s":"riluzole","V":5,"I":-6.6},{"s":"riluzole","V":10,"I":-6.2},{"s":"riluzole","V":15,"I":-5.9},{"s":"riluzole","V":20,"I":-5.3},{"s":"riluzole","V":25,"I":-4.75},{"s":"riluzole","V":30,"I":-4.25},{"s":"riluzole","V":35,"I":-3.7},{"s":"riluzole","V":40,"I":-3.1},{"s":"riluzole","V":45,"I":-2.5},{"s":"riluzole","V":50,"I":-1.95},{"s":"riluzole","V":55,"I":-1.45},{"s":"riluzole","V":60,"I":-0.87}],
"bpts":[{"s":"control","V":-65,"G":0},{"s":"control","V":-60,"G":0},{"s":"control","V":-55,"G":0.003},{"s":"control","V":-50,"G":0.012},{"s":"control","V":-45,"G":0.071},{"s":"control","V":-40,"G":0.229},{"s":"control","V":-35,"G":0.467},{"s":"control","V":-30,"G":0.66},{"s":"control","V":-25,"G":0.785},{"s":"control","V":-20,"G":0.882},{"s":"control","V":-15,"G":0.94},{"s":"control","V":-10,"G":0.967},{"s":"control","V":-5,"G":0.975},{"s":"control","V":0,"G":0.99},{"s":"control","V":5,"G":0.99},{"s":"control","V":10,"G":1},{"s":"control","V":15,"G":1},{"s":"control","V":20,"G":1},{"s":"control","V":25,"G":1},
{"s":"riluzole","V":-65,"G":0.002},{"s":"riluzole","V":-60,"G":0.002},{"s":"riluzole","V":-55,"G":0.006},{"s":"riluzole","V":-50,"G":0.015},{"s":"riluzole","V":-45,"G":0.04},{"s":"riluzole","V":-40,"G":0.144},{"s":"riluzole","V":-35,"G":0.31},{"s":"riluzole","V":-30,"G":0.532},{"s":"riluzole","V":-25,"G":0.69},{"s":"riluzole","V":-20,"G":0.797},{"s":"riluzole","V":-15,"G":0.869},{"s":"riluzole","V":-10,"G":0.913},{"s":"riluzole","V":-5,"G":0.946},{"s":"riluzole","V":0,"G":0.969},{"s":"riluzole","V":5,"G":0.983},{"s":"riluzole","V":10,"G":0.99},{"s":"riluzole","V":15,"G":0.996},{"s":"riluzole","V":20,"G":1},{"s":"riluzole","V":25,"G":1}],
"bfit":[{"s":"control","V":-70,"G":-0.01},{"s":"control","V":-65,"G":-0.009},{"s":"control","V":-60,"G":-0.005},{"s":"control","V":-55,"G":0.004},{"s":"control","V":-50,"G":0.025},{"s":"control","V":-47.5,"G":0.045},{"s":"control","V":-45,"G":0.08},{"s":"control","V":-42.5,"G":0.14},{"s":"control","V":-40,"G":0.225},{"s":"control","V":-37.5,"G":0.33},{"s":"control","V":-35,"G":0.45},{"s":"control","V":-32.5,"G":0.565},{"s":"control","V":-30,"G":0.665},{"s":"control","V":-27.5,"G":0.735},{"s":"control","V":-25,"G":0.795},{"s":"control","V":-22.5,"G":0.845},{"s":"control","V":-20,"G":0.885},{"s":"control","V":-17.5,"G":0.915},{"s":"control","V":-15,"G":0.94},{"s":"control","V":-12.5,"G":0.955},{"s":"control","V":-10,"G":0.967},{"s":"control","V":-5,"G":0.977},{"s":"control","V":0,"G":0.982},{"s":"control","V":5,"G":0.984},{"s":"control","V":10,"G":0.985},{"s":"control","V":20,"G":0.985},{"s":"control","V":30,"G":0.985},
{"s":"riluzole","V":-70,"G":-0.01},{"s":"riluzole","V":-65,"G":-0.009},{"s":"riluzole","V":-60,"G":-0.006},{"s":"riluzole","V":-55,"G":0},{"s":"riluzole","V":-50,"G":0.015},{"s":"riluzole","V":-47.5,"G":0.03},{"s":"riluzole","V":-45,"G":0.055},{"s":"riluzole","V":-42.5,"G":0.09},{"s":"riluzole","V":-40,"G":0.14},{"s":"riluzole","V":-37.5,"G":0.215},{"s":"riluzole","V":-35,"G":0.305},{"s":"riluzole","V":-32.5,"G":0.41},{"s":"riluzole","V":-30,"G":0.51},{"s":"riluzole","V":-27.5,"G":0.6},{"s":"riluzole","V":-25,"G":0.68},{"s":"riluzole","V":-22.5,"G":0.745},{"s":"riluzole","V":-20,"G":0.8},{"s":"riluzole","V":-17.5,"G":0.845},{"s":"riluzole","V":-15,"G":0.88},{"s":"riluzole","V":-12.5,"G":0.91},{"s":"riluzole","V":-10,"G":0.93},{"s":"riluzole","V":-5,"G":0.955},{"s":"riluzole","V":0,"G":0.97},{"s":"riluzole","V":5,"G":0.978},{"s":"riluzole","V":10,"G":0.982},{"s":"riluzole","V":20,"G":0.985},{"s":"riluzole","V":30,"G":0.985}],
"dpts":[{"s":"control","V":-155,"I":1},{"s":"control","V":-150,"I":1},{"s":"control","V":-145,"I":1},{"s":"control","V":-140,"I":0.998},{"s":"control","V":-135,"I":0.995},{"s":"control","V":-130,"I":0.985},{"s":"control","V":-125,"I":0.974},{"s":"control","V":-120,"I":0.961},{"s":"control","V":-115,"I":0.942},{"s":"control","V":-110,"I":0.922},{"s":"control","V":-105,"I":0.9},{"s":"control","V":-100,"I":0.864},{"s":"control","V":-95,"I":0.82},{"s":"control","V":-90,"I":0.765},{"s":"control","V":-85,"I":0.7},{"s":"control","V":-80,"I":0.634},{"s":"control","V":-75,"I":0.553},{"s":"control","V":-70,"I":0.452},{"s":"control","V":-65,"I":0.34},{"s":"control","V":-60,"I":0.252},{"s":"control","V":-55,"I":0.155},{"s":"control","V":-50,"I":0.09},{"s":"control","V":-45,"I":0.045},{"s":"control","V":-40,"I":0.015},{"s":"control","V":-35,"I":0.008},{"s":"control","V":-30,"I":0.007},{"s":"control","V":-25,"I":0.007},{"s":"control","V":-20,"I":0.007},{"s":"control","V":-15,"I":0.007},
{"s":"riluzole","V":-155,"I":1},{"s":"riluzole","V":-150,"I":1},{"s":"riluzole","V":-145,"I":0.988},{"s":"riluzole","V":-140,"I":0.977},{"s":"riluzole","V":-135,"I":0.966},{"s":"riluzole","V":-130,"I":0.943},{"s":"riluzole","V":-125,"I":0.92},{"s":"riluzole","V":-120,"I":0.893},{"s":"riluzole","V":-115,"I":0.856},{"s":"riluzole","V":-110,"I":0.82},{"s":"riluzole","V":-105,"I":0.768},{"s":"riluzole","V":-100,"I":0.714},{"s":"riluzole","V":-95,"I":0.658},{"s":"riluzole","V":-90,"I":0.602},{"s":"riluzole","V":-85,"I":0.547},{"s":"riluzole","V":-80,"I":0.486},{"s":"riluzole","V":-75,"I":0.41},{"s":"riluzole","V":-70,"I":0.335},{"s":"riluzole","V":-65,"I":0.258},{"s":"riluzole","V":-60,"I":0.18},{"s":"riluzole","V":-55,"I":0.111},{"s":"riluzole","V":-50,"I":0.052},{"s":"riluzole","V":-45,"I":0.025},{"s":"riluzole","V":-40,"I":0.012},{"s":"riluzole","V":-35,"I":0.008},{"s":"riluzole","V":-30,"I":0.007},{"s":"riluzole","V":-25,"I":0.007},{"s":"riluzole","V":-20,"I":0.007},{"s":"riluzole","V":-15,"I":0.007}],
"dfit":[{"s":"control","V":-155,"I":1},{"s":"control","V":-150,"I":1},{"s":"control","V":-145,"I":1},{"s":"control","V":-140,"I":0.998},{"s":"control","V":-135,"I":0.993},{"s":"control","V":-130,"I":0.986},{"s":"control","V":-125,"I":0.975},{"s":"control","V":-120,"I":0.961},{"s":"control","V":-115,"I":0.943},{"s":"control","V":-110,"I":0.922},{"s":"control","V":-105,"I":0.897},{"s":"control","V":-100,"I":0.863},{"s":"control","V":-95,"I":0.819},{"s":"control","V":-90,"I":0.765},{"s":"control","V":-85,"I":0.7},{"s":"control","V":-80,"I":0.632},{"s":"control","V":-75,"I":0.55},{"s":"control","V":-70,"I":0.452},{"s":"control","V":-65,"I":0.345},{"s":"control","V":-60,"I":0.245},{"s":"control","V":-55,"I":0.152},{"s":"control","V":-50,"I":0.085},{"s":"control","V":-45,"I":0.04},{"s":"control","V":-40,"I":0.013},{"s":"control","V":-35,"I":0},{"s":"control","V":-30,"I":-0.006},{"s":"control","V":-25,"I":-0.009},{"s":"control","V":-20,"I":-0.011},{"s":"control","V":-15,"I":-0.013},{"s":"control","V":-13,"I":-0.013},
{"s":"riluzole","V":-155,"I":1},{"s":"riluzole","V":-150,"I":0.996},{"s":"riluzole","V":-145,"I":0.988},{"s":"riluzole","V":-140,"I":0.977},{"s":"riluzole","V":-135,"I":0.964},{"s":"riluzole","V":-130,"I":0.944},{"s":"riluzole","V":-125,"I":0.92},{"s":"riluzole","V":-120,"I":0.891},{"s":"riluzole","V":-115,"I":0.857},{"s":"riluzole","V":-110,"I":0.818},{"s":"riluzole","V":-105,"I":0.768},{"s":"riluzole","V":-100,"I":0.714},{"s":"riluzole","V":-95,"I":0.658},{"s":"riluzole","V":-90,"I":0.602},{"s":"riluzole","V":-85,"I":0.545},{"s":"riluzole","V":-80,"I":0.484},{"s":"riluzole","V":-75,"I":0.41},{"s":"riluzole","V":-70,"I":0.335},{"s":"riluzole","V":-65,"I":0.257},{"s":"riluzole","V":-60,"I":0.18},{"s":"riluzole","V":-55,"I":0.11},{"s":"riluzole","V":-50,"I":0.055},{"s":"riluzole","V":-45,"I":0.025},{"s":"riluzole","V":-40,"I":0.01},{"s":"riluzole","V":-35,"I":0.002},{"s":"riluzole","V":-30,"I":-0.003},{"s":"riluzole","V":-25,"I":-0.007},{"s":"riluzole","V":-20,"I":-0.01},{"s":"riluzole","V":-15,"I":-0.012},{"s":"riluzole","V":-13,"I":-0.012}]
},
"bounds":"flush",
"align":"each",
"columns":2,
"spacing":{"row":127.7,"column":0},
"concat":[
{"width":202.3,"height":201,
"layer":[
{"layer":[
{"data":{"values":[{}]},"mark":{"type":"rule","stroke":"#231f20","strokeWidth":1},"encoding":{"x":{"datum":0,"type":"quantitative"},"y":{"datum":1,"type":"quantitative"},"y2":{"datum":-11}}},
{"data":{"name":"iv"},"transform":[{"filter":"datum.s=='Total'"}],"mark":{"type":"circle","fill":"#ffffff","stroke":"#231f20","strokeWidth":0.8,"size":50,"opacity":1},"encoding":{"x":{"field":"V","type":"quantitative","scale":{"domain":[-80,70],"nice":false,"zero":false},"axis":{"orient":"top","offset":-62,"values":[-80,-40,0,20,60],"tickSize":3,"labelPadding":4,"title":"Test potential (mV)","titlePadding":9}},"y":{"field":"I","type":"quantitative","scale":{"domain":[-11,4.89],"nice":false,"zero":false},"axis":{"orient":"left","offset":-107.9,"domain":false,"values":[-2,-4,-6,-8,-10],"labelExpr":"datum.value == -8 ? '' : datum.label","tickSize":4,"labelPadding":3,"title":null}}}},
{"data":{"name":"iv"},"transform":[{"filter":"datum.s=='riluzole'"}],"mark":{"type":"circle","fill":"#c6c6c6","stroke":"#3a3a3a","strokeWidth":0.8,"size":50,"opacity":1},"encoding":{"x":{"field":"V","type":"quantitative"},"y":{"field":"I","type":"quantitative"}}},
{"data":{"values":[{}]},"mark":{"type":"text","text":"I","align":"left","baseline":"alphabetic","fontSize":13,"fontStyle":"italic"},"encoding":{"x":{"datum":-13.56,"type":"quantitative"},"y":{"datum":-12.07,"type":"quantitative"}}},
{"data":{"values":[{}]},"mark":{"type":"text","text":"Na","align":"left","baseline":"alphabetic","fontSize":9},"encoding":{"x":{"datum":-9.63,"type":"quantitative"},"y":{"datum":-12.25,"type":"quantitative"}}},
{"data":{"values":[{}]},"mark":{"type":"text","text":"(nA)","align":"left","baseline":"alphabetic","fontSize":13},"encoding":{"x":{"datum":-0.52,"type":"quantitative"},"y":{"datum":-12.07,"type":"quantitative"}}},
{"data":{"values":[{}]},"mark":{"type":"circle","fill":"#ffffff","stroke":"#231f20","strokeWidth":0.8,"size":30,"opacity":1},"encoding":{"x":{"datum":-67.19,"type":"quantitative"},"y":{"datum":-14.885,"type":"quantitative"}}},
{"data":{"values":[{}]},"mark":{"type":"circle","fill":"#c6c6c6","stroke":"#3a3a3a","strokeWidth":0.8,"size":30,"opacity":1},"encoding":{"x":{"datum":-67.19,"type":"quantitative"},"y":{"datum":-16.34,"type":"quantitative"}}},
{"data":{"values":[{}]},"mark":{"type":"text","text":"I","align":"left","baseline":"alphabetic","fontSize":13,"fontStyle":"italic"},"encoding":{"x":{"datum":-60.5,"type":"quantitative"},"y":{"datum":-15.28,"type":"quantitative"}}},
{"data":{"values":[{}]},"mark":{"type":"text","text":"Total","align":"left","baseline":"alphabetic","fontSize":10},"encoding":{"x":{"datum":-56.07,"type":"quantitative"},"y":{"datum":-15.54,"type":"quantitative"}}},
{"data":{"values":[{}]},"mark":{"type":"text","text":"I","align":"left","baseline":"alphabetic","fontSize":13,"fontStyle":"italic"},"encoding":{"x":{"datum":-60.5,"type":"quantitative"},"y":{"datum":-16.73,"type":"quantitative"}}},
{"data":{"values":[{}]},"mark":{"type":"text","text":"riluzole","align":"left","baseline":"alphabetic","fontSize":10},"encoding":{"x":{"datum":-56.07,"type":"quantitative"},"y":{"datum":-16.92,"type":"quantitative"}}},
{"data":{"values":[{}]},"mark":{"type":"text","text":"(a)","align":"center","baseline":"middle","fontSize":13},"encoding":{"x":{"datum":-69.63,"type":"quantitative"},"y":{"datum":-18.5,"type":"quantitative"}}}
]},
{"layer":[
{"data":{"name":"apv"},"mark":{"type":"rule","stroke":"#4a4a4a","strokeWidth":0.8},"encoding":{"x":{"datum":-0.15,"type":"quantitative","scale":{"domain":[6.7713,15.843],"nice":false,"zero":false},"axis":null},"x2":{"datum":4.93},"y":{"field":"v","type":"quantitative","scale":{"domain":[-1089.1,213.6],"nice":false,"zero":false},"axis":null}}},
{"data":{"values":[{}]},"mark":{"type":"rule","stroke":"#231f20","strokeWidth":0.8},"encoding":{"x":{"datum":-0.15,"type":"quantitative","axis":null},"y":{"datum":-80,"type":"quantitative","axis":null},"y2":{"datum":60}}},
{"data":{"values":[{}]},"mark":{"type":"rule","stroke":"#231f20","strokeWidth":0.8},"encoding":{"x":{"datum":-0.25,"type":"quantitative","axis":null},"x2":{"datum":-0.15},"y":{"datum":-80,"type":"quantitative","axis":null}}},
{"data":{"values":[{}]},"mark":{"type":"text","text":"+60 mV","align":"center","baseline":"middle","fontSize":13},"encoding":{"x":{"datum":4.058,"type":"quantitative","axis":null},"y":{"datum":103.4,"type":"quantitative","axis":null}}},
{"data":{"values":[{}]},"mark":{"type":"text","text":"−80 mV","align":"center","baseline":"middle","fontSize":13},"encoding":{"x":{"datum":-0.067,"type":"quantitative","axis":null},"y":{"datum":-188.2,"type":"quantitative","axis":null}}},
{"data":{"values":[{}]},"mark":{"type":"text","text":"−65 mV","align":"center","baseline":"middle","fontSize":13},"encoding":{"x":{"datum":4.395,"type":"quantitative","axis":null},"y":{"datum":-199.3,"type":"quantitative","axis":null}}}
]},
{"layer":[
{"data":{"name":"ac"},"mark":{"type":"line","stroke":"#111","strokeWidth":0.75,"interpolate":"monotone"},"encoding":{"x":{"field":"t","type":"quantitative","scale":{"domain":[6.7713,15.843],"nice":false,"zero":false},"axis":null},"y":{"field":"i","type":"quantitative","scale":{"domain":[-15.2125,9.9125],"nice":false,"zero":false},"axis":null},"detail":{"field":"k","type":"nominal"}}},
{"data":{"values":[{}]},"mark":{"type":"rule","stroke":"#231f20","strokeWidth":0.9},"encoding":{"x":{"datum":2.659,"type":"quantitative","axis":null},"y":{"datum":-4.425,"type":"quantitative","axis":null},"y2":{"datum":-7.425}}},
{"data":{"values":[{}]},"mark":{"type":"rule","stroke":"#231f20","strokeWidth":0.9},"encoding":{"x":{"datum":2.659,"type":"quantitative","axis":null},"x2":{"datum":3.659},"y":{"datum":-7.425,"type":"quantitative","axis":null}}},
{"data":{"values":[{}]},"mark":{"type":"text","text":"Control","align":"left","baseline":"middle","fontSize":13},"encoding":{"x":{"datum":3.722,"type":"quantitative","axis":null},"y":{"datum":-3.05,"type":"quantitative","axis":null}}},
{"data":{"values":[{}]},"mark":{"type":"text","text":"3 nA","align":"center","baseline":"middle","fontSize":13},"encoding":{"x":{"datum":3.677,"type":"quantitative","axis":null},"y":{"datum":-6.34,"type":"quantitative","axis":null}}},
{"data":{"values":[{}]},"mark":{"type":"text","text":"1 ms","align":"center","baseline":"middle","fontSize":13},"encoding":{"x":{"datum":3.184,"type":"quantitative","axis":null},"y":{"datum":-8.46,"type":"quantitative","axis":null}}}
]},
{"layer":[
{"data":{"name":"ar"},"mark":{"type":"line","stroke":"#111","strokeWidth":0.75,"interpolate":"monotone"},"encoding":{"x":{"field":"t","type":"quantitative","scale":{"domain":[6.7713,15.843],"nice":false,"zero":false},"axis":null},"y":{"field":"i","type":"quantitative","scale":{"domain":[-3.2875,21.8375],"nice":false,"zero":false},"axis":null},"detail":{"field":"k","type":"nominal"}}},
{"data":{"values":[{}]},"mark":{"type":"text","text":"+Riluzole","align":"left","baseline":"middle","fontSize":13},"encoding":{"x":{"datum":2.735,"type":"quantitative","axis":null},"y":{"datum":-3.0,"type":"quantitative","axis":null}}}
]}
],
"resolve":{"scale":{"x":"independent","y":"independent"}}
},
{"width":345.7,"height":192,
"layer":[
{"data":{"name":"bfit"},"mark":{"type":"line","stroke":"#231f20","strokeWidth":0.8,"interpolate":"monotone"},"encoding":{"x":{"field":"V","type":"quantitative","scale":{"domain":[-102.605,30],"nice":false,"zero":false},"axis":{"orient":"bottom","domain":false,"values":[-60,-40,-20,0,20],"tickSize":3,"labelPadding":3,"title":null}},"y":{"field":"G","type":"quantitative","scale":{"domain":[-0.1,1.1],"nice":false,"zero":false},"axis":{"orient":"left","offset":-70,"values":[0,0.5,1],"format":".1f","tickSize":3,"labelPadding":3,"title":null}},"detail":{"field":"s","type":"nominal"}}},
{"data":{"values":[{}]},"mark":{"type":"rule","stroke":"#231f20","strokeWidth":1},"encoding":{"x":{"datum":-70,"type":"quantitative"},"x2":{"datum":30},"y":{"datum":-0.1,"type":"quantitative"}}},
{"data":{"name":"bpts"},"transform":[{"filter":"datum.s=='control'"}],"mark":{"type":"circle","fill":"#ffffff","stroke":"#231f20","strokeWidth":0.8,"size":75,"opacity":1},"encoding":{"x":{"field":"V","type":"quantitative"},"y":{"field":"G","type":"quantitative"}}},
{"data":{"name":"bpts"},"transform":[{"filter":"datum.s=='riluzole'"}],"mark":{"type":"circle","fill":"#c6c6c6","stroke":"#3a3a3a","strokeWidth":0.8,"size":75,"opacity":1},"encoding":{"x":{"field":"V","type":"quantitative"},"y":{"field":"G","type":"quantitative"}}},
{"data":{"values":[{}]},"mark":{"type":"text","text":"Test potential (mV)","align":"center","baseline":"middle","fontSize":13.5,"fontWeight":"normal"},"encoding":{"x":{"datum":-20,"type":"quantitative"},"y":{"datum":-0.3394,"type":"quantitative"}}},
{"data":{"values":[{}]},"mark":{"type":"text","text":"G/G","align":"left","baseline":"alphabetic","fontSize":13,"fontStyle":"italic","angle":270},"encoding":{"x":{"datum":-85.84,"type":"quantitative"},"y":{"datum":0.3828,"type":"quantitative"}}},
{"data":{"values":[{}]},"mark":{"type":"text","text":"max","align":"left","baseline":"alphabetic","fontSize":9,"angle":270},"encoding":{"x":{"datum":-84.69,"type":"quantitative"},"y":{"datum":0.5228,"type":"quantitative"}}},
{"data":{"values":[{}]},"mark":{"type":"circle","fill":"#ffffff","stroke":"#231f20","strokeWidth":0.8,"size":32,"opacity":1},"encoding":{"x":{"datum":-74.83,"type":"quantitative"},"y":{"datum":-0.464,"type":"quantitative"}}},
{"data":{"values":[{}]},"mark":{"type":"circle","fill":"#c6c6c6","stroke":"#3a3a3a","strokeWidth":0.8,"size":32,"opacity":1},"encoding":{"x":{"datum":-74.83,"type":"quantitative"},"y":{"datum":-0.579,"type":"quantitative"}}},
{"data":{"values":[{}]},"mark":{"type":"text","text":"I","align":"left","baseline":"alphabetic","fontSize":13,"fontStyle":"italic"},"encoding":{"x":{"datum":-68.3,"type":"quantitative"},"y":{"datum":-0.4956,"type":"quantitative"}}},
{"data":{"values":[{}]},"mark":{"type":"text","text":"control","align":"left","baseline":"alphabetic","fontSize":9},"encoding":{"x":{"datum":-66.1,"type":"quantitative"},"y":{"datum":-0.506,"type":"quantitative"}}},
{"data":{"values":[{}]},"mark":{"type":"text","text":"I","align":"left","baseline":"alphabetic","fontSize":13,"fontStyle":"italic"},"encoding":{"x":{"datum":-68.3,"type":"quantitative"},"y":{"datum":-0.6106,"type":"quantitative"}}},
{"data":{"values":[{}]},"mark":{"type":"text","text":"riluzole","align":"left","baseline":"alphabetic","fontSize":9},"encoding":{"x":{"datum":-66.1,"type":"quantitative"},"y":{"datum":-0.625,"type":"quantitative"}}},
{"data":{"values":[{}]},"mark":{"type":"text","text":"(b)","align":"center","baseline":"middle","fontSize":13},"encoding":{"x":{"datum":-20.75,"type":"quantitative"},"y":{"datum":-0.7356,"type":"quantitative"}}}
]},
{"width":202.3,"height":207,
"layer":[
{"layer":[
{"data":{"name":"cpv"},"mark":{"type":"rule","stroke":"#3a3a3a","strokeWidth":0.8},"encoding":{"x":{"datum":-0.5375,"type":"quantitative","scale":{"domain":[0.43483,2.76816],"nice":false,"zero":false},"axis":null},"x2":{"datum":-0.4221},"y":{"field":"v","type":"quantitative","scale":{"domain":[-654.1,-10],"nice":false,"zero":false},"axis":null}}},
{"data":{"name":"cpv"},"mark":{"type":"rule","stroke":"#3a3a3a","strokeWidth":0.8},"encoding":{"x":{"datum":-0.2884,"type":"quantitative","axis":null},"x2":{"datum":-0.0646},"y":{"field":"v","type":"quantitative","axis":null}}},
{"data":{"values":[{}]},"mark":{"type":"rule","stroke":"#231f20","strokeWidth":0.8},"encoding":{"x":{"datum":-0.0646,"type":"quantitative","axis":null},"y":{"datum":-150,"type":"quantitative","axis":null},"y2":{"datum":-10}}},
{"data":{"values":[{}]},"mark":{"type":"rule","stroke":"#231f20","strokeWidth":0.9},"encoding":{"x":{"datum":-0.0646,"type":"quantitative","axis":null},"x2":{"datum":1.758},"y":{"datum":-10,"type":"quantitative","axis":null}}},
{"data":{"values":[{}]},"mark":{"type":"rule","stroke":"#231f20","strokeWidth":0.8},"encoding":{"x":{"datum":-0.603,"type":"quantitative","axis":null},"x2":{"datum":-0.5375},"y":{"datum":-115.8,"type":"quantitative","axis":null}}},
{"data":{"values":[{}]},"mark":{"type":"text","text":"−10 mV","align":"center","baseline":"middle","fontSize":13},"encoding":{"x":{"datum":0.789,"type":"quantitative","axis":null},"y":{"datum":21.1,"type":"quantitative","axis":null}}},
{"data":{"values":[{}]},"mark":{"type":"text","text":"−80 mV","align":"left","baseline":"middle","fontSize":13},"encoding":{"x":{"datum":0.0196,"type":"quantitative","axis":null},"y":{"datum":-123.9,"type":"quantitative","axis":null}}}
]},
{"layer":[
{"data":{"name":"cc"},"mark":{"type":"line","stroke":"#111","strokeWidth":0.8,"interpolate":"monotone"},"encoding":{"x":{"field":"t","type":"quantitative","axis":null},"y":{"field":"i","type":"quantitative","scale":{"domain":[-19.434,7.207],"nice":false,"zero":false},"axis":null},"detail":{"field":"k","type":"nominal"}}},
{"data":{"values":[{}]},"mark":{"type":"rule","stroke":"#231f20","strokeWidth":0.9},"encoding":{"x":{"datum":0.992,"type":"quantitative","axis":null},"y":{"datum":-8.88,"type":"quantitative","axis":null},"y2":{"datum":-14.88}}},
{"data":{"values":[{}]},"mark":{"type":"rule","stroke":"#231f20","strokeWidth":0.9},"encoding":{"x":{"datum":1.02,"type":"quantitative","axis":null},"x2":{"datum":1.52},"y":{"datum":-14.88,"type":"quantitative","axis":null}}},
{"data":{"values":[{}]},"mark":{"type":"text","text":"Control","align":"left","baseline":"middle","fontSize":13},"encoding":{"x":{"datum":1.211,"type":"quantitative","axis":null},"y":{"datum":-4.8,"type":"quantitative","axis":null}}},
{"data":{"values":[{}]},"mark":{"type":"text","text":"6 nA","align":"center","baseline":"middle","fontSize":13},"encoding":{"x":{"datum":1.277,"type":"quantitative","axis":null},"y":{"datum":-13.81,"type":"quantitative","axis":null}}},
{"data":{"values":[{}]},"mark":{"type":"text","text":"0.5 ms","align":"center","baseline":"middle","fontSize":13},"encoding":{"x":{"datum":1.257,"type":"quantitative","axis":null},"y":{"datum":-16.38,"type":"quantitative","axis":null}}}
]},
{"layer":[
{"data":{"name":"cr"},"mark":{"type":"line","stroke":"#111","strokeWidth":0.8,"interpolate":"monotone"},"encoding":{"x":{"field":"t","type":"quantitative","axis":null},"y":{"field":"i","type":"quantitative","scale":{"domain":[-1.2098,25.431],"nice":false,"zero":false},"axis":null},"detail":{"field":"k","type":"nominal"}}},
{"data":{"values":[{}]},"mark":{"type":"text","text":"+Riluzole","align":"left","baseline":"middle","fontSize":13},"encoding":{"x":{"datum":0.98,"type":"quantitative","axis":null},"y":{"datum":-6.1,"type":"quantitative","axis":null}}},
{"data":{"values":[{}]},"mark":{"type":"text","text":"(c)","align":"center","baseline":"middle","fontSize":13},"encoding":{"x":{"datum":0.539,"type":"quantitative","axis":null},"y":{"datum":-15.53,"type":"quantitative","axis":null}}}
]}
],
"resolve":{"scale":{"y":"independent"}}
},
{"width":264,"height":207,
"layer":[
{"data":{"name":"dfit"},"mark":{"type":"line","stroke":"#231f20","strokeWidth":0.8,"interpolate":"monotone"},"encoding":{"x":{"field":"V","type":"quantitative","scale":{"domain":[-170,-10],"nice":false,"zero":false},"axis":{"orient":"bottom","values":[-140,-100,-60,-20],"tickSize":3,"labelPadding":3,"title":"Test potential (mV)","titlePadding":8}},"y":{"field":"I","type":"quantitative","scale":{"domain":[-0.1,1.1],"nice":false,"zero":false},"axis":{"orient":"left","offset":12.6,"values":[0,0.5,1],"format":".1f","tickSize":3,"labelPadding":3,"title":null}},"detail":{"field":"s","type":"nominal"}}},
{"data":{"name":"dpts"},"transform":[{"filter":"datum.s=='control'"}],"mark":{"type":"circle","fill":"#ffffff","stroke":"#231f20","strokeWidth":0.8,"size":62,"opacity":1},"encoding":{"x":{"field":"V","type":"quantitative"},"y":{"field":"I","type":"quantitative"}}},
{"data":{"name":"dpts"},"transform":[{"filter":"datum.s=='riluzole'"}],"mark":{"type":"circle","fill":"#c6c6c6","stroke":"#3a3a3a","strokeWidth":0.8,"size":62,"opacity":1},"encoding":{"x":{"field":"V","type":"quantitative"},"y":{"field":"I","type":"quantitative"}}},
{"data":{"values":[{}]},"mark":{"type":"text","text":"I/I","align":"left","baseline":"alphabetic","fontSize":13,"fontStyle":"italic","angle":270},"encoding":{"x":{"datum":-200.5,"type":"quantitative"},"y":{"datum":0.4217,"type":"quantitative"}}},
{"data":{"values":[{}]},"mark":{"type":"text","text":"max","align":"left","baseline":"alphabetic","fontSize":9,"angle":270},"encoding":{"x":{"datum":-198.7,"type":"quantitative"},"y":{"datum":0.4954,"type":"quantitative"}}},
{"data":{"values":[{}]},"mark":{"type":"circle","fill":"#ffffff","stroke":"#231f20","strokeWidth":0.8,"size":32,"opacity":1},"encoding":{"x":{"datum":-176.06,"type":"quantitative"},"y":{"datum":-0.461,"type":"quantitative"}}},
{"data":{"values":[{}]},"mark":{"type":"circle","fill":"#c6c6c6","stroke":"#3a3a3a","strokeWidth":0.8,"size":32,"opacity":1},"encoding":{"x":{"datum":-176.06,"type":"quantitative"},"y":{"datum":-0.5655,"type":"quantitative"}}},
{"data":{"values":[{}]},"mark":{"type":"text","text":"I","align":"left","baseline":"alphabetic","fontSize":13,"fontStyle":"italic"},"encoding":{"x":{"datum":-169,"type":"quantitative"},"y":{"datum":-0.494,"type":"quantitative"}}},
{"data":{"values":[{}]},"mark":{"type":"text","text":"control","align":"left","baseline":"alphabetic","fontSize":9},"encoding":{"x":{"datum":-165.5,"type":"quantitative"},"y":{"datum":-0.5035,"type":"quantitative"}}},
{"data":{"values":[{}]},"mark":{"type":"text","text":"I","align":"left","baseline":"alphabetic","fontSize":13,"fontStyle":"italic"},"encoding":{"x":{"datum":-169,"type":"quantitative"},"y":{"datum":-0.6003,"type":"quantitative"}}},
{"data":{"values":[{}]},"mark":{"type":"text","text":"riluzole","align":"left","baseline":"alphabetic","fontSize":9},"encoding":{"x":{"datum":-165.5,"type":"quantitative"},"y":{"datum":-0.61,"type":"quantitative"}}},
{"data":{"values":[{}]},"mark":{"type":"text","text":"(d)","align":"center","baseline":"middle","fontSize":13},"encoding":{"x":{"datum":-112.42,"type":"quantitative"},"y":{"datum":-0.726,"type":"quantitative"}}}
]}
]
}
